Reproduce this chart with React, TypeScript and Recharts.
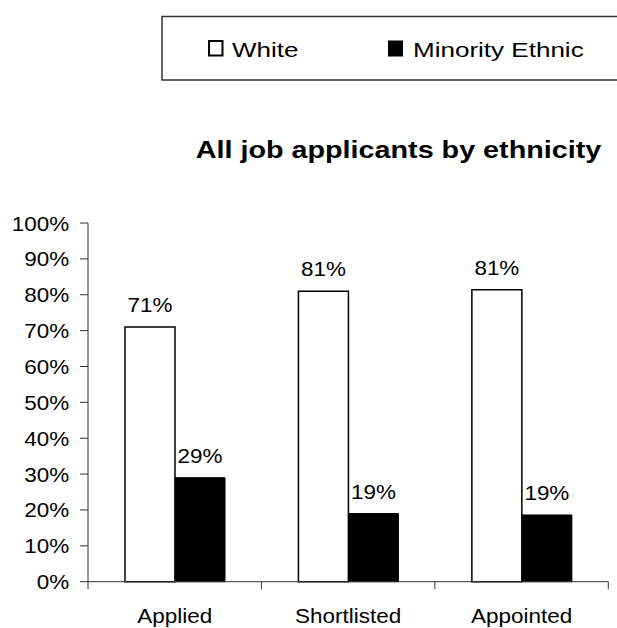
import React from 'react';
import { BarChart, Bar, XAxis, YAxis, LabelList } from 'recharts';

const categories = ['Applied', 'Shortlisted', 'Appointed'];
const whiteValues = [71, 81, 81.4];
const minorityValues = [29, 19, 18.6];
const yTicks = [0, 10, 20, 30, 40, 50, 60, 70, 80, 90, 100];
const seriesNames = ['White', 'Minority Ethnic'];
const seriesFills = ['#ffffff', '#000000'];
const chartTitle = 'All job applicants by ethnicity';

const data = categories.map((c, i) => ({
  category: c,
  white: whiteValues[i],
  minority: minorityValues[i],
}));

const W = 617;
const H = 628;
const PLOT_LEFT = 88;
const PLOT_RIGHT = 608.3;
const PLOT_TOP = 223;
const X_AXIS_H = 46.3;
const BAND = (PLOT_RIGHT - PLOT_LEFT) / categories.length;
const FONT = '"Liberation Sans", Arial, Helvetica, sans-serif';
const AXIS_SCALE = 1.07;
const HEAD_SCALE = 1.24;

const YTick = (props: any) => {
  const { x, y, payload } = props;
  return (
    <g transform={`translate(${x},${y + 7.5}) scale(${AXIS_SCALE},1)`}>
      <text x={0} y={0} textAnchor="end" fontFamily={FONT} fontSize={21} fill="#000">
        {`${payload.value}%`}
      </text>
    </g>
  );
};

const XTick = (props: any) => {
  const { x, y, payload, index } = props;
  const last = index === categories.length - 1;
  return (
    <g>
      <line x1={x - BAND / 2} x2={x - BAND / 2} y1={y} y2={y + 7.5} stroke="#333" strokeWidth={1} />
      {last && (
        <line x1={x + BAND / 2} x2={x + BAND / 2} y1={y} y2={y + 7.5} stroke="#333" strokeWidth={1} />
      )}
      <g transform={`translate(${x},${y + 41}) scale(${AXIS_SCALE},1)`}>
        <text x={0} y={0} textAnchor="middle" fontFamily={FONT} fontSize={21} fill="#000">
          {payload.value}
        </text>
      </g>
    </g>
  );
};

const BarValueLabel = (props: any) => {
  const { x, y, width, value } = props;
  if (value == null) return null;
  return (
    <g transform={`translate(${x + width / 2},${y - 15}) scale(${AXIS_SCALE},1)`}>
      <text x={0} y={0} textAnchor="middle" fontFamily={FONT} fontSize={21} fill="#000">
        {`${Math.round(value)}%`}
      </text>
    </g>
  );
};

export default function App() {
  return (
    <div style={{ position: 'absolute', left: 0, top: 0, width: W, height: H, background: '#fff' }}>
      <BarChart
        width={W}
        height={H}
        data={data}
        margin={{ top: PLOT_TOP, right: W - PLOT_RIGHT, bottom: 0, left: 0 }}
        barGap={0}
      >
        <YAxis
          domain={[0, 100]}
          ticks={yTicks}
          interval={0}
          width={PLOT_LEFT}
          tickSize={8}
          tickMargin={10.7}
          axisLine={{ stroke: '#333', strokeWidth: 1 }}
          tickLine={{ stroke: '#333', strokeWidth: 1 }}
          tick={<YTick />}
        />
        <XAxis
          dataKey="category"
          height={X_AXIS_H}
          tickSize={0}
          tickMargin={0}
          tickLine={false}
          interval={0}
          axisLine={{ stroke: '#333', strokeWidth: 1 }}
          tick={<XTick />}
        />
        <Bar dataKey="white" name={seriesNames[0]} fill={seriesFills[0]} stroke="#000" strokeWidth={1.5} barSize={50} isAnimationActive={false}>
          <LabelList dataKey="white" content={<BarValueLabel />} />
        </Bar>
        <Bar dataKey="minority" name={seriesNames[1]} fill={seriesFills[1]} stroke="#000" strokeWidth={1} barSize={50} isAnimationActive={false}>
          <LabelList dataKey="minority" content={<BarValueLabel />} />
        </Bar>
      </BarChart>
      <svg
        width={W}
        height={H}
        style={{ position: 'absolute', left: 0, top: 0, pointerEvents: 'none' }}
      >
        <rect x={162} y={16.5} width={470} height={63.5} fill="#fff" stroke="#333" strokeWidth={1.5} />
        <rect x={209} y={41} width={13.5} height={14.5} fill={seriesFills[0]} stroke="#000" strokeWidth={2} />
        <g transform={`translate(232,56.7) scale(${HEAD_SCALE},1)`}>
          <text x={0} y={0} fontFamily={FONT} fontSize={21} fill="#000">{seriesNames[0]}</text>
        </g>
        <rect x={388} y={40.5} width={15} height={16} fill={seriesFills[1]} />
        <g transform={`translate(413,56.7) scale(${HEAD_SCALE},1)`}>
          <text x={0} y={0} fontFamily={FONT} fontSize={21} fill="#000">{seriesNames[1]}</text>
        </g>
        <g transform={`translate(398.5,158) scale(1.25,1)`}>
          <text x={0} y={0} textAnchor="middle" fontFamily={FONT} fontSize={23} fontWeight="bold" fill="#000">
            {chartTitle}
          </text>
        </g>
      </svg>
    </div>
  );
}
